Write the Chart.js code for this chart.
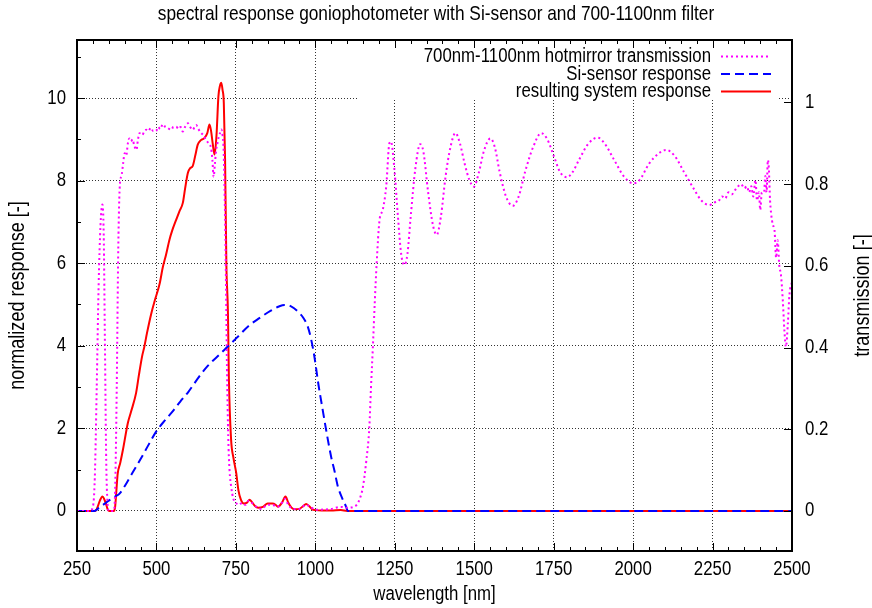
<!DOCTYPE html>
<html>
<head>
<meta charset="utf-8">
<script src="https://cdn.jsdelivr.net/npm/chart.js@4.4.1/dist/chart.umd.min.js"></script>
<style>
  html, body { margin: 0; padding: 0; background: #fff; }
</style>
</head>
<body>
<canvas id="chart" width="872" height="608"></canvas>
<script>
const FONT = "'Liberation Sans', Arial, sans-serif";
const SQUEEZE = 0.84; // reference text is a narrow helvetica

// hotmirror transmission (right axis)
const filterNm = [
    250, 290, 300, 306, 312, 318, 324, 330, 334, 338,
    342, 346, 350, 365, 370, 375, 380, 385, 390, 395,
    400, 405, 410, 415, 420, 425, 430, 437, 442, 447,
    455, 462, 468, 475, 482, 490, 499, 505, 512, 520,
    528, 535, 546, 553, 562, 570, 576, 583, 590, 599,
    606, 614, 620, 625, 632, 641, 648, 656, 664, 672,
    676, 680, 684, 688, 692, 696, 700, 704, 708, 711,
    714, 716, 719, 722, 726, 730, 735, 742, 750, 760,
    770, 780, 790, 800, 815, 830, 850, 865, 880, 895,
    905, 915, 930, 950, 970, 985, 1000, 1050, 1080, 1100,
    1120, 1130, 1140, 1150, 1160, 1170, 1175, 1181, 1187, 1193,
    1202, 1212, 1223, 1233, 1238, 1249, 1260, 1270, 1280, 1290,
    1300, 1315, 1330, 1340, 1355, 1370, 1382, 1395, 1410, 1425,
    1441, 1455, 1470, 1485, 1499, 1515, 1530, 1551, 1565, 1580,
    1600, 1621, 1640, 1660, 1685, 1711, 1730, 1750, 1770, 1792,
    1810, 1830, 1860, 1889, 1910, 1940, 1970, 2000, 2020, 2050,
    2080, 2104, 2130, 2160, 2190, 2215, 2240, 2255, 2270, 2280,
    2290, 2300, 2310, 2325, 2340, 2350, 2358, 2365, 2372, 2378,
    2385, 2390, 2396, 2400, 2405, 2412, 2416, 2420, 2424, 2427,
    2431, 2434, 2440, 2445, 2450, 2455, 2460, 2465, 2471, 2476,
    2481, 2487, 2492, 2500
];
const filterT = [
    0, 0, 0.01, 0.08, 0.3, 0.55, 0.7, 0.75, 0.68, 0.4,
    0.12, 0.02, 0, 0, 0.05, 0.3, 0.65, 0.8, 0.82, 0.85,
    0.876, 0.87, 0.9, 0.912, 0.905, 0.91, 0.895, 0.884, 0.91, 0.925,
    0.92, 0.93, 0.933, 0.93, 0.938, 0.93, 0.93, 0.94, 0.935, 0.947,
    0.94, 0.938, 0.933, 0.94, 0.941, 0.935, 0.94, 0.929, 0.94, 0.949,
    0.94, 0.933, 0.94, 0.945, 0.935, 0.925, 0.92, 0.908, 0.9, 0.888,
    0.86, 0.818, 0.85, 0.884, 0.9, 0.916, 0.925, 0.934, 0.92, 0.892,
    0.8, 0.72, 0.55, 0.35, 0.18, 0.1, 0.06, 0.03, 0.02, 0.015,
    0.02, 0.015, 0.025, 0.02, 0.01, 0.005, 0.015, 0.015, 0.01, 0.02,
    0.03, 0.015, 0.005, 0.005, 0.015, 0.01, 0.003, 0.005, 0.01, 0.008,
    0.01, 0.015, 0.03, 0.06, 0.12, 0.206, 0.3, 0.4, 0.51, 0.607,
    0.712, 0.737, 0.794, 0.9, 0.904, 0.835, 0.72, 0.63, 0.602, 0.63,
    0.72, 0.84, 0.898, 0.88, 0.78, 0.7, 0.676, 0.72, 0.82, 0.89,
    0.925, 0.9, 0.85, 0.81, 0.794, 0.83, 0.88, 0.912, 0.89, 0.83,
    0.77, 0.747, 0.77, 0.83, 0.89, 0.925, 0.91, 0.87, 0.83, 0.817,
    0.83, 0.86, 0.9, 0.914, 0.9, 0.86, 0.82, 0.802, 0.81, 0.85,
    0.875, 0.884, 0.87, 0.83, 0.79, 0.76, 0.749, 0.755, 0.76, 0.77,
    0.765, 0.78, 0.775, 0.79, 0.8, 0.79, 0.795, 0.78, 0.795, 0.77,
    0.81, 0.76, 0.78, 0.737, 0.78, 0.78, 0.82, 0.78, 0.859, 0.84,
    0.76, 0.73, 0.7, 0.688, 0.62, 0.663, 0.6, 0.58, 0.516, 0.443,
    0.402, 0.46, 0.53, 0.56
];

// Si-sensor response (left axis)
const sensorNm = [
    250, 305, 310, 320, 336, 350, 370, 384, 400, 425,
    452, 475, 499, 525, 551, 575, 600, 635, 660, 700,
    730, 760, 790, 824, 860, 885, 903, 925, 945, 962,
    976, 987, 997, 1010, 1022, 1034, 1050, 1060, 1071, 1085,
    1097, 1102, 2500
];
const sensorResp = [
    0, 0, 0.02, 0.08, 0.17, 0.25, 0.35, 0.42, 0.6, 0.93,
    1.28, 1.6, 1.92, 2.18, 2.41, 2.65, 2.88, 3.26, 3.5, 3.8,
    4.02, 4.25, 4.48, 4.67, 4.85, 4.95, 4.99, 4.95, 4.83, 4.68,
    4.47, 4.15, 3.74, 3.05, 2.5, 1.96, 1.3, 0.98, 0.59, 0.3,
    0.1, 0, 0
];

// resulting system response (left axis)
const systemNm = [
    250, 308, 315, 322, 330, 336, 342, 347, 352, 366,
    370, 374, 378, 386, 395, 410, 420, 436, 445, 455,
    462, 470, 484, 495, 510, 520, 530, 541, 550, 562,
    572, 583, 590, 599, 606, 614, 622, 630, 640, 651,
    660, 667, 672, 677, 683, 689, 695, 700, 704, 708,
    712, 716, 720, 725, 728, 735, 742, 751, 758, 766,
    775, 785, 793, 800, 810, 820, 835, 850, 865, 875,
    882, 895, 906, 915, 925, 935, 950, 962, 971, 980,
    990, 1000, 1020, 1050, 1080, 1100, 2500
];
const systemResp = [
    0, 0, 0.1, 0.25, 0.35, 0.28, 0.15, 0.03, 0, 0,
    0.1, 0.5, 0.9, 1.16, 1.5, 2.13, 2.4, 2.86, 3.3, 3.75,
    3.98, 4.3, 4.79, 5.1, 5.5, 5.9, 6.2, 6.57, 6.8, 7.05,
    7.25, 7.46, 7.8, 8.19, 8.3, 8.35, 8.6, 8.87, 8.98, 9.03,
    9.15, 9.36, 9.2, 8.9, 8.63, 9.1, 10.04, 10.3, 10.37, 10.2,
    9.88, 8.5, 6.0, 4.8, 3.2, 1.72, 1.3, 0.92, 0.5, 0.27,
    0.18, 0.2, 0.27, 0.22, 0.12, 0.08, 0.1, 0.18, 0.18, 0.15,
    0.1, 0.2, 0.35, 0.2, 0.08, 0.04, 0.05, 0.12, 0.17, 0.12,
    0.04, 0.02, 0.01, 0.01, 0.02, 0, 0
];

const xTicks = [250, 500, 750, 1000, 1250, 1500, 1750, 2000, 2250, 2500];
const yTicks = [0, 2, 4, 6, 8, 10];
const y2Ticks = [0, 0.2, 0.4, 0.6, 0.8, 1];

const titleText = "spectral response goniophotometer with Si-sensor and 700-1100nm filter";
const xTitle = "wavelength [nm]";
const yTitle = "normalized response [-]";
const y2Title = "transmission [-]";

const pts = (xs, ys) => xs.map((x, i) => ({ x: x, y: ys[i] }));

// all text goes through here, narrowed horizontally
function narrowText(ctx, text, x, y, align, size, rotate) {
    ctx.save();
    ctx.font = size + "px " + FONT;
    ctx.fillStyle = "#000";
    ctx.textAlign = align;
    ctx.textBaseline = "middle";
    ctx.translate(x, y);
    if (rotate) ctx.rotate(rotate);
    ctx.scale(SQUEEZE, 1);
    ctx.fillText(text, 0, 0);
    ctx.restore();
}

// white key box with text on the left and line sample on the right, gnuplot style
const keyBox = {
    id: "keyBox",
    beforeDatasetsDraw(chart) {
        const { ctx, chartArea: a } = chart;
        const sets = chart.data.datasets;
        ctx.save();
        ctx.font = "20px " + FONT;
        const textRight = a.right - 81;
        const maxW = Math.max(...sets.map(d => ctx.measureText(d.label).width)) * SQUEEZE;
        const boxLeft = textRight - maxW - 66;
        ctx.fillStyle = "#fff";
        ctx.fillRect(boxLeft, a.top + 1, a.right - 13 - boxLeft, 59);

        sets.forEach((d, i) => {
            const yy = a.top + 16.5 + 17.5 * i;
            narrowText(ctx, d.label, textRight, yy, "right", 20);
            ctx.strokeStyle = d.borderColor;
            ctx.lineWidth = d.borderWidth;
            ctx.setLineDash(d.borderDash || []);
            ctx.beginPath();
            ctx.moveTo(a.right - 71, yy);
            ctx.lineTo(a.right - 21, yy);
            ctx.stroke();
        });
        ctx.restore();
    }
};

// border box, inward tics, tick labels and titles
const frame = {
    id: "frame",
    afterDatasetsDraw(chart) {
        const { ctx, chartArea: a, scales } = chart;
        const x = scales.x, y = scales.y, y2 = scales.y2;
        ctx.save();
        ctx.strokeStyle = "#000";
        ctx.lineWidth = 1;
        ctx.beginPath();
        for (let v = xTicks[0]; v <= xTicks[xTicks.length - 1]; v += 50) {
            const px = Math.round(x.getPixelForValue(v)) + 0.5;
            const len = v % 250 === 0 ? 8 : 4;
            ctx.moveTo(px, a.bottom); ctx.lineTo(px, a.bottom - len);
            ctx.moveTo(px, a.top); ctx.lineTo(px, a.top + len);
        }
        for (let v = 0; v <= 11; v++) {
            const py = Math.round(y.getPixelForValue(v)) + 0.5;
            ctx.moveTo(a.left, py); ctx.lineTo(a.left + (v % 2 === 0 ? 8 : 4), py);
        }
        y2Ticks.forEach(v => {
            const py = Math.round(y2.getPixelForValue(v)) + 0.5;
            ctx.moveTo(a.right, py); ctx.lineTo(a.right - 8, py);
        });
        ctx.stroke();
        ctx.lineWidth = 2;
        ctx.strokeRect(Math.round(a.left), Math.round(a.top), Math.round(a.width), Math.round(a.height));
        ctx.restore();
    },
    afterDraw(chart) {
        const { ctx, chartArea: a, scales } = chart;
        const midY = (a.top + a.bottom) / 2;
        xTicks.forEach(v => narrowText(ctx, String(v), scales.x.getPixelForValue(v), a.bottom + 18.5, "center", 20));
        yTicks.forEach(v => narrowText(ctx, String(v), a.left - 11, scales.y.getPixelForValue(v), "right", 20));
        y2Ticks.forEach(v => narrowText(ctx, String(v), a.right + 13, scales.y2.getPixelForValue(v), "left", 20));
        narrowText(ctx, titleText, chart.width / 2, 14, "center", 20.6);
        narrowText(ctx, xTitle, (a.left + a.right) / 2, 594, "center", 20);
        narrowText(ctx, yTitle, 18, midY, "center", 21.5, -Math.PI / 2);
        narrowText(ctx, y2Title, 863, midY, "center", 21.5, -Math.PI / 2);
    }
};

const gridOpts = { color: "rgba(0,0,0,0.8)", lineWidth: 1, drawTicks: false };

new Chart(document.getElementById("chart"), {
    type: "line",
    data: {
        datasets: [
            {
                label: "700nm-1100nm hotmirror transmission",
                data: pts(filterNm, filterT),
                yAxisID: "y2",
                borderColor: "#ff00ff",
                borderWidth: 2,
                borderDash: [2, 3],
                pointRadius: 0,
                cubicInterpolationMode: "monotone"
            },
            {
                label: "Si-sensor response",
                data: pts(sensorNm, sensorResp),
                yAxisID: "y",
                borderColor: "#0000ff",
                borderWidth: 2,
                borderDash: [9, 5],
                pointRadius: 0,
                cubicInterpolationMode: "monotone"
            },
            {
                label: "resulting system response",
                data: pts(systemNm, systemResp),
                yAxisID: "y",
                borderColor: "#ff0000",
                borderWidth: 2,
                pointRadius: 0,
                cubicInterpolationMode: "monotone"
            }
        ]
    },
    options: {
        responsive: false,
        devicePixelRatio: 1,
        animation: false,
        layout: { padding: { top: 40 } },
        plugins: {
            legend: { display: false },
            tooltip: { enabled: false },
            title: { display: false }
        },
        scales: {
            x: {
                type: "linear",
                position: "bottom",
                min: 250,
                max: 2500,
                afterFit: s => { s.height = 57; },
                afterBuildTicks: s => { s.ticks = xTicks.map(v => ({ value: v })); },
                ticks: { display: false },
                grid: gridOpts,
                border: { display: false, dash: [1, 2] }
            },
            y: {
                type: "linear",
                position: "left",
                min: -0.97,
                max: 11.405,
                afterFit: s => { s.width = 77; },
                afterBuildTicks: s => { s.ticks = yTicks.map(v => ({ value: v })); },
                ticks: { display: false },
                grid: gridOpts,
                border: { display: false, dash: [1, 2] }
            },
            y2: {
                type: "linear",
                position: "right",
                min: -0.098,
                max: 1.153,
                afterFit: s => { s.width = 80; },
                afterBuildTicks: s => { s.ticks = y2Ticks.map(v => ({ value: v })); },
                ticks: { display: false },
                grid: { display: false, drawTicks: false },
                border: { display: false }
            }
        }
    },
    plugins: [keyBox, frame]
});
</script>
</body>
</html>
